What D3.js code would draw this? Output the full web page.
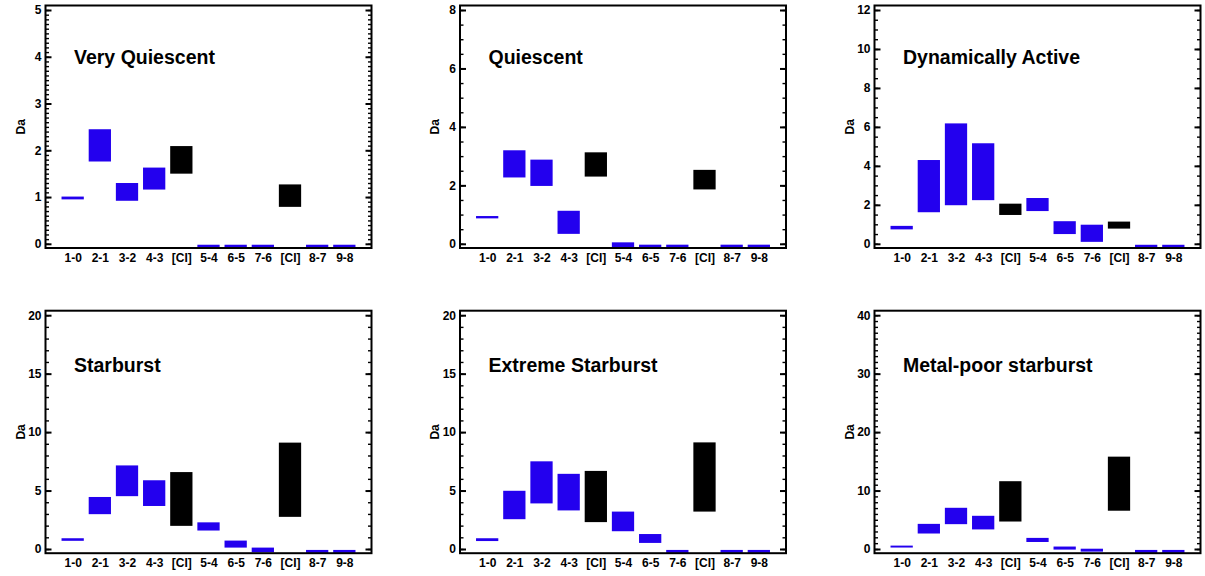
<!DOCTYPE html>
<html>
<head>
<meta charset="utf-8">
<script src="https://cdn.jsdelivr.net/npm/d3@7"></script>
<style>
  body { margin: 0; background: #fff; }
  svg text { font-family: "Liberation Sans", Arial, sans-serif; font-weight: 700; fill: #000; }
</style>
</head>
<body>
<svg width="1205" height="576"></svg>
<script>
// transition labels along the x axis ([CI] appears twice)
var categories = ["1-0", "2-1", "3-2", "4-3", "[CI]", "5-4", "6-5", "7-6", "[CI]", "8-7", "9-8"];

// panel titles, y limits and tick steps
var titles = ["Very Quiescent", "Quiescent", "Dynamically Active", "Starburst", "Extreme Starburst", "Metal-poor starburst"];
var yMaxes = [5, 8, 12, 20, 20, 40];
var majorSteps = [1, 2, 2, 5, 5, 10];
var minorSteps = [0.1, 0.5, 0.5, 1, 1, 1];

// [low, high] range of Da for each transition
var veryQuiescent = [[0.95, 1.01], [1.76, 2.45], [0.92, 1.30], [1.16, 1.63], [1.50, 2.09],
  [-0.08, -0.02], [-0.08, -0.02], [-0.08, -0.02], [0.79, 1.27], [-0.08, -0.02], [-0.08, -0.02]];
var quiescent = [[0.87, 0.95], [2.27, 3.20], [1.98, 2.88], [0.34, 1.13], [2.30, 3.13],
  [-0.11, 0.05], [-0.13, -0.03], [-0.13, -0.03], [1.86, 2.53], [-0.13, -0.03], [-0.13, -0.03]];
var dynamicallyActive = [[0.74, 0.92], [1.62, 4.30], [1.98, 6.18], [2.24, 5.16], [1.48, 2.06],
  [1.68, 2.35], [0.50, 1.16], [0.10, 0.98], [0.78, 1.14], [-0.2, -0.05], [-0.2, -0.05]];
var starburst = [[0.7, 0.92], [2.98, 4.45], [4.52, 7.15], [3.68, 5.88], [1.98, 6.58],
  [1.58, 2.28], [0.12, 0.72], [-0.28, 0.12], [2.75, 9.10], [-0.33, -0.08], [-0.33, -0.08]];
var extremeStarburst = [[0.68, 0.92], [2.55, 4.98], [3.90, 7.50], [3.30, 6.43], [2.30, 6.68],
  [1.52, 3.20], [0.52, 1.28], [-0.33, -0.08], [3.20, 9.12], [-0.33, -0.08], [-0.33, -0.08]];
var metalPoorStarburst = [[0.25, 0.58], [2.65, 4.30], [4.25, 7.05], [3.35, 5.68], [4.70, 11.6],
  [1.20, 1.90], [-0.1, 0.42], [-0.45, 0.05], [6.55, 15.8], [-0.66, -0.16], [-0.66, -0.16]];

var panelData = [veryQuiescent, quiescent, dynamicallyActive, starburst, extremeStarburst, metalPoorStarburst];

var blue = "#2300ee";

var svg = d3.select("svg");

var lefts = [45.5, 460, 874.5];
var tops = [5.5, 310.7];
var panelW = 326, panelH = 242.5;

panelData.forEach(function(rows, p) {
  var col = p % 3, row = Math.floor(p / 3);
  var g = svg.append("g")
    .attr("transform", "translate(" + lefts[col] + "," + tops[row] + ")");

  var x = d3.scalePoint()
    .domain(d3.range(categories.length))
    .range([0, panelW])
    .padding(1);

  // zero sits a few pixels above the bottom edge, top value a few below the top
  var y = d3.scaleLinear()
    .domain([0, yMaxes[p]])
    .range([panelH - 4.2, 4.5]);

  var barW = x.step() * 0.82;

  g.selectAll("rect.bar")
    .data(rows)
    .enter().append("rect")
      .attr("class", "bar")
      .attr("x", function(d, i) { return x(i) - barW / 2; })
      .attr("y", function(d) { return Math.min(y(d[1]), panelH); })
      .attr("width", barW)
      .attr("height", function(d) { return Math.min(y(d[0]), panelH) - Math.min(y(d[1]), panelH); })
      .attr("fill", function(d, i) { return categories[i] === "[CI]" ? "#000" : blue; });

  var nMajor = Math.round(yMaxes[p] / majorSteps[p]);
  var nMinor = Math.round(yMaxes[p] / minorSteps[p]);
  var majors = d3.range(nMajor + 1).map(function(k) { return k * majorSteps[p]; });
  var minors = d3.range(nMinor + 1).map(function(k) { return +(k * minorSteps[p]).toFixed(3); });

  // minor ticks, left and right
  g.append("g")
    .call(d3.axisLeft(y).tickValues(minors).tickSize(-3.5).tickSizeOuter(0).tickFormat(""))
    .call(function(a) { a.select(".domain").remove(); })
    .selectAll("line").attr("stroke-width", 1.4);
  g.append("g")
    .attr("transform", "translate(" + panelW + ",0)")
    .call(d3.axisRight(y).tickValues(minors).tickSize(-3.5).tickSizeOuter(0).tickFormat(""))
    .call(function(a) { a.select(".domain").remove(); })
    .selectAll("line").attr("stroke-width", 1.4);

  // major ticks with labels on the left
  var yAxis = g.append("g")
    .call(d3.axisLeft(y).tickValues(majors).tickSize(-6).tickSizeOuter(0).tickPadding(4)
      .tickFormat(d3.format("d")))
    .call(function(a) { a.select(".domain").remove(); });
  yAxis.selectAll("line").attr("stroke-width", 2);
  yAxis.selectAll("text").style("font-size", "12px");

  g.append("g")
    .attr("transform", "translate(" + panelW + ",0)")
    .call(d3.axisRight(y).tickValues(majors).tickSize(-6).tickSizeOuter(0).tickFormat(""))
    .call(function(a) { a.select(".domain").remove(); })
    .selectAll("line").attr("stroke-width", 2);

  // category labels
  var xAxis = g.append("g")
    .attr("transform", "translate(0," + panelH + ")")
    .call(d3.axisBottom(x).tickSize(0).tickPadding(5).tickFormat(function(i) { return categories[i]; }))
    .call(function(a) { a.select(".domain").remove(); });
  xAxis.selectAll("text").style("font-size", "12px");

  // frame
  g.append("rect")
    .attr("width", panelW)
    .attr("height", panelH)
    .attr("fill", "none")
    .attr("stroke", "#000")
    .attr("stroke-width", 2);

  g.append("text")
    .attr("x", 28.5)
    .attr("y", row === 0 ? 58.5 : 61)
    .style("font-size", "19.5px")
    .text(titles[p]);

  g.append("text")
    .attr("transform", "translate(-21," + (panelH / 2) + ") rotate(-90)")
    .attr("text-anchor", "middle")
    .style("font-size", "12px")
    .text("Da");
});
</script>
</body>
</html>
